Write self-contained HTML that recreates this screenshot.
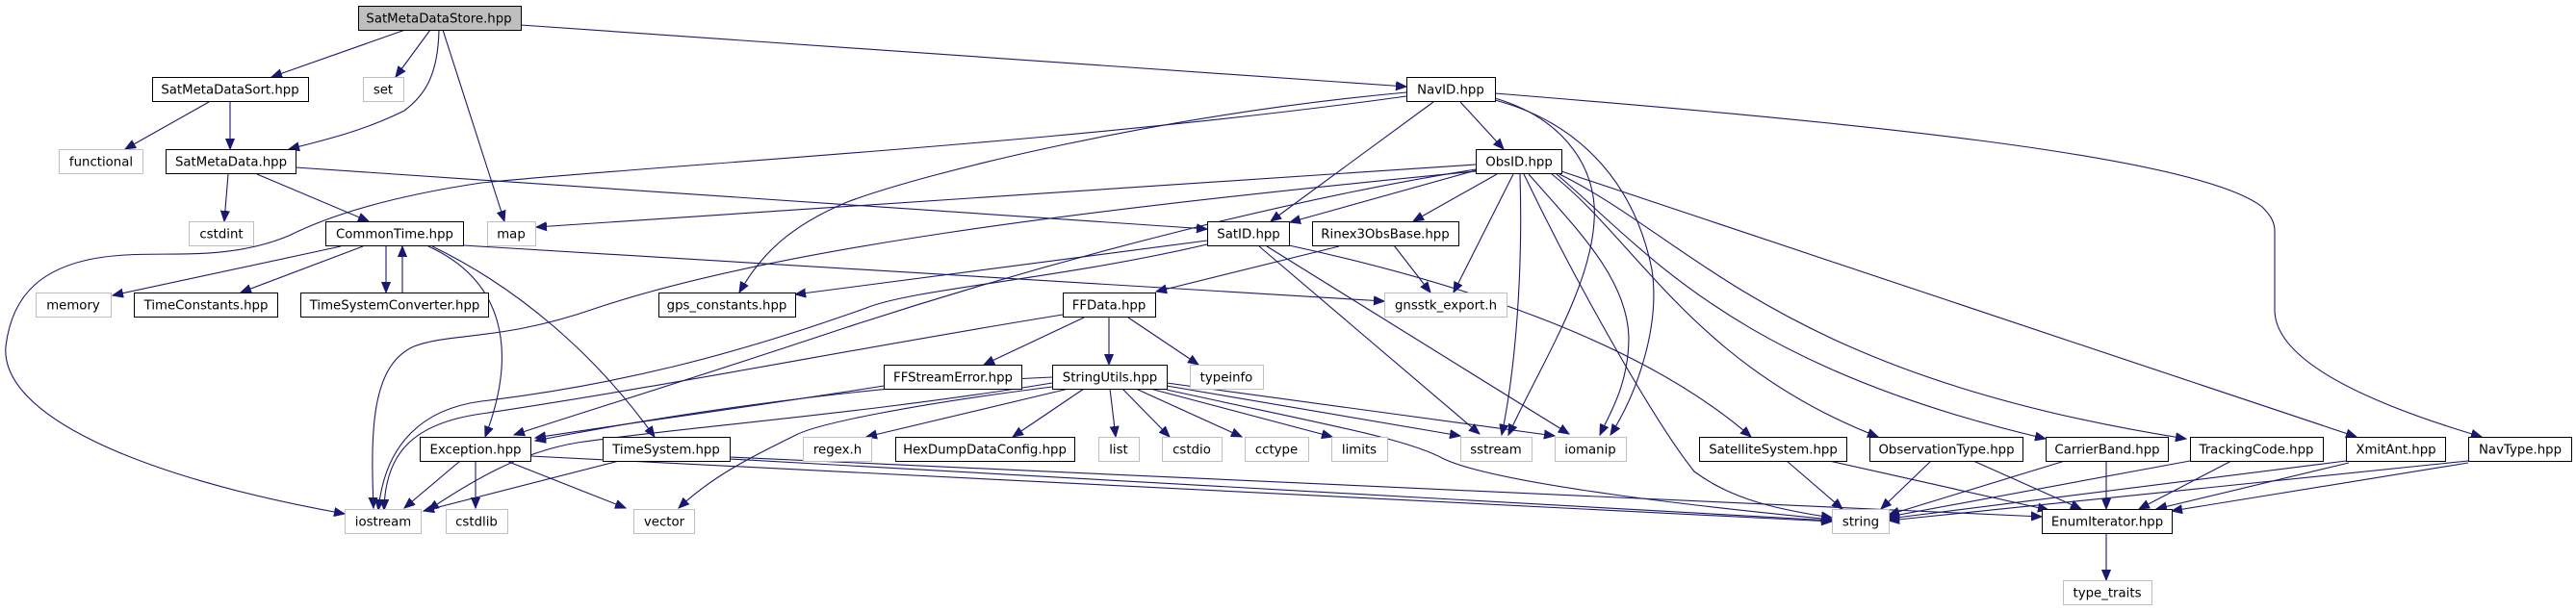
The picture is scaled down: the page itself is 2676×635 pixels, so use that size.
<!DOCTYPE html>
<html><head><meta charset="utf-8"><style>
html,body{margin:0;padding:0;background:#fff;}
svg{display:block;}
text{font-family:"DejaVu Sans","Liberation Sans",sans-serif;font-size:13.3px;fill:#000;text-anchor:middle;}
.n{fill:#fff;stroke:#000;stroke-width:1;}
.g{fill:#fff;stroke:#bfbfbf;stroke-width:1;}
.r{fill:#bfbfbf;stroke:#000;stroke-width:1;}
path{fill:none;stroke:#191970;stroke-width:1.1;marker-end:url(#a);}
</style></head><body>
<svg width="2676" height="635" viewBox="0 0 2676 635" xmlns="http://www.w3.org/2000/svg">
<defs><marker id="a" markerUnits="userSpaceOnUse" markerWidth="12" markerHeight="10" refX="11" refY="5" orient="auto"><polygon points="0,0.5 11,5 0,9.5" fill="#191970" stroke="#191970"/></marker></defs>

<!-- edges -->
<path d="M421,31 L282,80"/>
<path d="M447,31 L411,80"/>
<path d="M456,31 C455,80 440,100 420,115 C380,135 340,145 300,155"/>
<path d="M460,31 L524,230"/>
<path d="M541,26 L1461,90"/>
<path d="M217,106 L130,155"/>
<path d="M239,106 L239,155"/>
<path d="M237,181 L233,230"/>
<path d="M267,181 L383,230"/>
<path d="M307,174 L1254,238"/>
<path d="M354,256 L117,307"/>
<path d="M377,256 L250,304"/>
<path d="M401,256 L401,304"/>
<path d="M418,304 L418,256"/>
<path d="M445,256 C520,290 540,360 504,454"/>
<path d="M449,256 C540,300 620,370 680,454"/>
<path d="M481,255 L1438,313"/>
<path d="M1517,106 L1562,155"/>
<path d="M1489,106 L1320,230"/>
<path d="M1461,96 C1200,120 960,180 880,210 C820,235 790,265 768,304"/>
<path d="M1461,100 C1100,150 700,170 500,190 C400,205 340,225 300,245 C240,270 180,262 130,265 C40,270 12,310 6,360 C0,430 140,495 358,534"/>
<path d="M1553,97 C1900,125 2280,160 2350,215 C2360,225 2363,232 2363,240 L2363,322 C2363,380 2480,425 2578,454"/>
<path d="M1553,102 C1630,125 1660,180 1656,230 C1652,300 1600,380 1567,452"/>
<path d="M1553,104 C1650,130 1700,200 1716,280 C1725,340 1700,410 1673,452"/>
<path d="M1533,171 L557,236"/>
<path d="M1537,176 L1340,231"/>
<path d="M1555,181 L1468,230"/>
<path d="M1572,181 L1510,304"/>
<path d="M1579,181 C1582,280 1575,380 1560,452"/>
<path d="M1588,181 C1640,240 1690,290 1692,350 C1692,400 1672,430 1662,452"/>
<path d="M1583,181 C1640,300 1720,440 1760,490 C1800,520 1850,530 1903,538"/>
<path d="M1533,176 C1350,205 1110,265 880,340 C700,400 600,430 534,452"/>
<path d="M1533,178 C1100,220 800,260 620,320 C520,355 470,345 430,360 C385,380 385,450 388,528"/>
<path d="M1612,181 C1700,250 1760,380 1951,454"/>
<path d="M1617,181 C1710,260 1800,380 2125,456"/>
<path d="M1620,181 C1760,250 1850,390 2271,456"/>
<path d="M1622,178 L2448,454"/>
<path d="M1254,250 L826,306"/>
<path d="M1254,254 C1100,290 950,300 900,320 C760,370 640,400 500,417 C440,425 400,460 393,530"/>
<path d="M1308,256 L1537,451"/>
<path d="M1316,256 L1630,451"/>
<path d="M1339,255 C1500,290 1700,350 1819,454"/>
<path d="M1448,255 L1486,304"/>
<path d="M1391,256 L1201,303"/>
<path d="M1126,330 L1022,379"/>
<path d="M1152,330 L1152,379"/>
<path d="M1172,330 L1245,379"/>
<path d="M1104,327 C900,360 700,400 500,430 C430,440 400,470 399,530"/>
<path d="M918,401 C800,420 650,440 556,455"/>
<path d="M1093,392 C900,400 700,430 556,458"/>
<path d="M1093,398 C900,430 700,445 600,460 C540,470 490,500 445,530"/>
<path d="M1093,402 C950,420 850,440 827,452 C780,475 740,495 705,528"/>
<path d="M1110,404 L900,454"/>
<path d="M1126,404 L1052,454"/>
<path d="M1153,404 L1159,454"/>
<path d="M1166,404 L1215,454"/>
<path d="M1180,404 L1290,454"/>
<path d="M1195,404 L1384,454"/>
<path d="M1212,401 L1517,453"/>
<path d="M1212,398 L1615,453"/>
<path d="M1212,405 C1370,440 1460,455 1500,477 C1560,505 1800,530 1903,540"/>
<path d="M478,479 L420,528"/>
<path d="M494,479 L494,528"/>
<path d="M526,479 L650,528"/>
<path d="M551,474 L1903,542"/>
<path d="M643,479 L440,531"/>
<path d="M758,475 L2121,537"/>
<path d="M758,477 L1903,541"/>
<path d="M1856,479 L1914,529"/>
<path d="M1900,479 L2128,530"/>
<path d="M2006,479 L1954,529"/>
<path d="M2050,479 L2162,529"/>
<path d="M2145,479 L1962,535"/>
<path d="M2188,479 L2188,529"/>
<path d="M2275,479 L1962,537"/>
<path d="M2318,479 L2222,529"/>
<path d="M2437,479 L1962,539"/>
<path d="M2440,481 L2240,529"/>
<path d="M2564,479 L1962,541"/>
<path d="M2564,481 L2256,531"/>
<path d="M2188,554 L2188,603"/>

<!-- nodes -->
<rect class="r" x="372.5" y="6.5" width="169" height="25"/><text x="456" y="23.5">SatMetaDataStore.hpp</text>
<rect class="n" x="158.5" y="80.5" width="162" height="25"/><text x="239" y="97.5">SatMetaDataSort.hpp</text>
<rect class="g" x="377.5" y="80.5" width="42" height="25"/><text x="398" y="97.5">set</text>
<rect class="g" x="61.5" y="155.5" width="87" height="25"/><text x="105" y="172.5">functional</text>
<rect class="n" x="172.5" y="155.5" width="135" height="25"/><text x="240" y="172.5">SatMetaData.hpp</text>
<rect class="g" x="196.5" y="230.5" width="67" height="25"/><text x="230" y="247.5">cstdint</text>
<rect class="n" x="338.5" y="230.5" width="143" height="25"/><text x="410" y="247.5">CommonTime.hpp</text>
<rect class="g" x="506.5" y="230.5" width="50" height="25"/><text x="531" y="247.5">map</text>
<rect class="g" x="37.5" y="304.5" width="78" height="25"/><text x="76" y="321.5">memory</text>
<rect class="n" x="139.5" y="304.5" width="149" height="25"/><text x="214" y="321.5">TimeConstants.hpp</text>
<rect class="n" x="312.5" y="304.5" width="195" height="25"/><text x="410" y="321.5">TimeSystemConverter.hpp</text>
<rect class="n" x="684.5" y="304.5" width="142" height="25"/><text x="755" y="321.5">gps_constants.hpp</text>
<rect class="n" x="1461.5" y="80.5" width="92" height="25"/><text x="1507" y="97.5">NavID.hpp</text>
<rect class="n" x="1533.5" y="155.5" width="89" height="25"/><text x="1578" y="172.5">ObsID.hpp</text>
<rect class="n" x="1254.5" y="230.5" width="85" height="25"/><text x="1297" y="247.5">SatID.hpp</text>
<rect class="n" x="1363.5" y="230.5" width="152" height="25"/><text x="1439" y="247.5">Rinex3ObsBase.hpp</text>
<rect class="n" x="1104.5" y="304.5" width="96" height="25"/><text x="1152" y="321.5">FFData.hpp</text>
<rect class="g" x="1438.5" y="304.5" width="127" height="25"/><text x="1502" y="321.5">gnsstk_export.h</text>
<rect class="n" x="918.5" y="379.5" width="143" height="25"/><text x="990" y="396.5">FFStreamError.hpp</text>
<rect class="n" x="1093.5" y="379.5" width="119" height="25"/><text x="1153" y="396.5">StringUtils.hpp</text>
<rect class="g" x="1236.5" y="379.5" width="76" height="25"/><text x="1274" y="396.5">typeinfo</text>
<rect class="n" x="436.5" y="454.5" width="115" height="25"/><text x="494" y="471.5">Exception.hpp</text>
<rect class="n" x="626.5" y="454.5" width="132" height="25"/><text x="692" y="471.5">TimeSystem.hpp</text>
<rect class="g" x="834.5" y="454.5" width="71" height="25"/><text x="870" y="471.5">regex.h</text>
<rect class="n" x="930.5" y="454.5" width="186" height="25"/><text x="1023" y="471.5">HexDumpDataConfig.hpp</text>
<rect class="g" x="1141.5" y="454.5" width="42" height="25"/><text x="1162" y="471.5">list</text>
<rect class="g" x="1207.5" y="454.5" width="62" height="25"/><text x="1238" y="471.5">cstdio</text>
<rect class="g" x="1293.5" y="454.5" width="66" height="25"/><text x="1326" y="471.5">cctype</text>
<rect class="g" x="1383.5" y="454.5" width="58" height="25"/><text x="1412" y="471.5">limits</text>
<rect class="g" x="1517.5" y="454.5" width="74" height="25"/><text x="1554" y="471.5">sstream</text>
<rect class="g" x="1615.5" y="454.5" width="74" height="25"/><text x="1652" y="471.5">iomanip</text>
<rect class="n" x="1765.5" y="454.5" width="153" height="25"/><text x="1842" y="471.5">SatelliteSystem.hpp</text>
<rect class="n" x="1942.5" y="454.5" width="159" height="25"/><text x="2022" y="471.5">ObservationType.hpp</text>
<rect class="n" x="2125.5" y="454.5" width="127" height="25"/><text x="2189" y="471.5">CarrierBand.hpp</text>
<rect class="n" x="2275.5" y="454.5" width="138" height="25"/><text x="2344" y="471.5">TrackingCode.hpp</text>
<rect class="n" x="2437.5" y="454.5" width="103" height="25"/><text x="2489" y="471.5">XmitAnt.hpp</text>
<rect class="n" x="2564.5" y="454.5" width="107" height="25"/><text x="2618" y="471.5">NavType.hpp</text>
<rect class="g" x="358.5" y="529.5" width="79" height="25"/><text x="398" y="546.5">iostream</text>
<rect class="g" x="463.5" y="529.5" width="64" height="25"/><text x="495" y="546.5">cstdlib</text>
<rect class="g" x="658.5" y="529.5" width="63" height="25"/><text x="690" y="546.5">vector</text>
<rect class="g" x="1903.5" y="529.5" width="59" height="25"/><text x="1933" y="546.5">string</text>
<rect class="n" x="2121.5" y="529.5" width="135" height="25"/><text x="2189" y="546.5">EnumIterator.hpp</text>
<rect class="g" x="2143.5" y="603.5" width="92" height="25"/><text x="2189" y="620.5">type_traits</text>
</svg>
</body></html>
